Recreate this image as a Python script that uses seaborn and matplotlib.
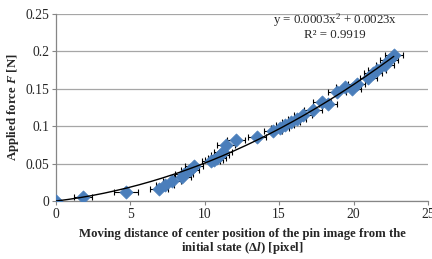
import numpy as np
import matplotlib
matplotlib.use("Agg")
import matplotlib.pyplot as plt
import seaborn as sns
import pandas as pd

# data
dist = [0, 1.8, 4.7, 6.9, 7.3, 7.8, 8.5, 8.6, 9.0, 9.3, 10.4, 10.6, 10.8, 11.0,
        11.2, 11.4, 12.1, 13.5, 14.6, 15.05, 15.4, 15.8, 16.2, 16.6, 17.3, 17.85,
        18.3, 18.9, 19.4, 19.9, 20.2, 21.0, 21.3, 21.6, 22.1, 22.4, 22.7]
force = [0, 0.006, 0.012, 0.016, 0.021, 0.027, 0.032, 0.036, 0.042, 0.047, 0.053,
         0.055, 0.058, 0.062, 0.066, 0.075, 0.081, 0.086, 0.093, 0.098, 0.101,
         0.105, 0.110, 0.115, 0.122, 0.133, 0.130, 0.146, 0.153, 0.150, 0.157,
         0.165, 0.171, 0.175, 0.182, 0.188, 0.195]
xerr = [0, 0.6, 0.8, 0.6, 0.6, 0.6, 0.6, 0.6, 0.6, 0.6, 0.6, 0.6, 0.6, 0.6,
        0.6, 0.6, 0.6, 0.6, 0.6, 0.6, 0.6, 0.6, 0.6, 0.6, 0.6, 0.6,
        0.6, 0.6, 0.6, 0.6, 0.6, 0.6, 0.6, 0.6, 0.6, 0.6, 0.6]
x_ticks = [0, 5, 10, 15, 20, 25]
y_ticks = [0, 0.05, 0.1, 0.15, 0.2, 0.25]
eq_text = "y = 0.0003x$^2$ + 0.0023x"
r2_text = "R² = 0.9919"

df = pd.DataFrame({"dist": dist, "force": force})

sns.set_style("white")
plt.rcParams['font.family'] = ['Liberation Serif', 'DejaVu Serif']
plt.rcParams['mathtext.fontset'] = 'custom'
plt.rcParams['mathtext.rm'] = 'Liberation Serif'
plt.rcParams['mathtext.it'] = 'Liberation Serif:bold:italic'
plt.rcParams['mathtext.bf'] = 'Liberation Serif:bold'

fig = plt.figure(figsize=(4.32, 2.59), dpi=100)
ax = fig.add_axes([0.1296, 0.2239, 0.9907 - 0.1296, 0.946 - 0.2239])

# horizontal gridlines
ax.set_axisbelow(True)
ax.yaxis.grid(True, color="#a6a6a6", lw=0.9)
ax.xaxis.grid(False)

ax.errorbar(dist, force, xerr=xerr, fmt="none", ecolor="black", elinewidth=0.8,
            capsize=2.5, capthick=0.8, zorder=2)

# trendline (quadratic through origin) fitted to data
X = np.array(dist)
A = np.vstack([X**2, X]).T
coef, *_ = np.linalg.lstsq(A, np.array(force), rcond=None)
xs = np.linspace(0, max(dist), 200)
ys = coef[0] * xs**2 + coef[1] * xs

sns.scatterplot(data=df, x="dist", y="force", marker="D", s=45, color="#4a7ebb",
                edgecolor="#4a7ebb", linewidth=0.5, ax=ax, zorder=3)
ax.plot(xs, ys, color="black", lw=1.0, zorder=4)

ax.set_xlim(0, 25)
ax.set_ylim(0, 0.25)
ax.set_xticks(x_ticks)
ax.set_xticklabels([str(t) for t in x_ticks])
ax.set_yticks(y_ticks)
ax.set_yticklabels(["0", "0.05", "0.1", "0.15", "0.2", "0.25"])
ax.tick_params(axis="both", labelsize=9.8, length=3, color="#868686", width=0.8,
               direction="out", pad=2)
ax.xaxis.set_ticks_position("bottom")
ax.yaxis.set_ticks_position("left")

for s in ["top", "right"]:
    ax.spines[s].set_visible(False)
for s in ["left", "bottom"]:
    ax.spines[s].set_color("#868686")
    ax.spines[s].set_linewidth(0.9)

ax.set_xlabel("Moving distance of center position of the pin image from the\n"
              "initial state (Δ$\\mathit{l}$) [pixel]",
              fontsize=9.2, fontweight="bold", labelpad=5, linespacing=1.05)
ax.set_ylabel("Applied force $\\mathit{F}$ [N]", fontsize=9.2, fontweight="bold", labelpad=3)

ax.text(18.75, 0.2415, eq_text, fontsize=9.3, ha="center", va="center")
ax.text(18.75, 0.2225, r2_text, fontsize=9.3, ha="center", va="center")

fig.savefig("out.png", dpi=100)
